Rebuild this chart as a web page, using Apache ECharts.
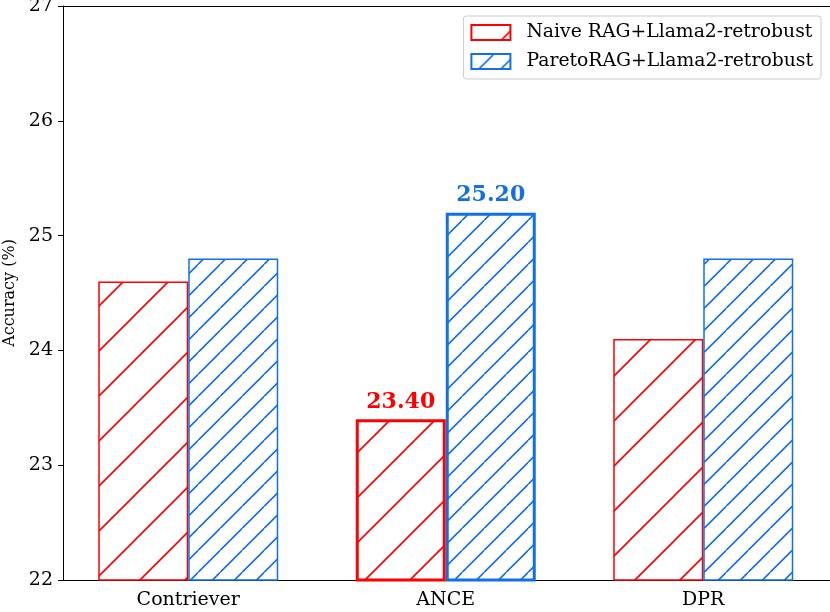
<!DOCTYPE html>
<html>
<head>
<meta charset="utf-8">
<script src="https://cdn.jsdelivr.net/npm/echarts@6/dist/echarts.min.js"></script>
<style>
  html, body { margin: 0; padding: 0; background: #fff; }
  #main { width: 830px; height: 612px; }
</style>
</head>
<body>
<div id="main"></div>
<script>
var categories = ['Contriever', 'ANCE', 'DPR'];
var naiveValues = [24.6, 23.4, 24.1];
var paretoValues = [24.8, 25.2, 24.8];
var yTicks = [22, 23, 24, 25, 26, 27];
var highlightIndex = 1; // ANCE gets thick border + value label

var RED = '#ff0000';
var BLUE = '#1170e6';
var FONT = 'DejaVu Serif';

// diagonal "/" hatch tile
function hatch(color, step, lw) {
  var c = document.createElement('canvas');
  c.width = step; c.height = step;
  var ctx = c.getContext('2d');
  ctx.fillStyle = '#fff';
  ctx.fillRect(0, 0, step, step);
  ctx.strokeStyle = color;
  ctx.lineWidth = lw;
  ctx.beginPath();
  ctx.moveTo(-2, step + 2); ctx.lineTo(step + 2, -2);
  ctx.moveTo(-2, 2); ctx.lineTo(2, -2);
  ctx.moveTo(step - 2, step + 2); ctx.lineTo(step + 2, step - 2);
  ctx.stroke();
  return { image: c, repeat: 'repeat' };
}

function makeData(values, color) {
  return values.map(function (v, i) {
    if (i !== highlightIndex) return v;
    return {
      value: v,
      itemStyle: { borderWidth: 3 },
      label: {
        show: true, position: 'top', distance: 6,
        color: color, fontFamily: FONT, fontWeight: 'bold', fontSize: 22,
        formatter: function (p) { return p.value.toFixed(2); }
      }
    };
  });
}

var chart = echarts.init(document.getElementById('main'));
chart.setOption({
  animation: false,
  backgroundColor: '#fff',
  grid: {
    left: 59.5, top: 6, bottom: 32, right: -2,
    outerBoundsMode: 'none', containLabel: false
  },
  legend: {
    right: 9, top: 16,
    orient: 'vertical',
    icon: 'rect',
    itemWidth: 39, itemHeight: 15, itemGap: 10,
    padding: [7, 8, 8, 7],
    borderColor: '#ccc', borderWidth: 1, borderRadius: 3,
    textStyle: { fontFamily: FONT, fontSize: 18.8, lineHeight: 19, color: '#000', padding: [0, 0, 0, 11] },
    data: ['Naive RAG+Llama2-retrobust', 'ParetoRAG+Llama2-retrobust']
  },
  xAxis: [
    {
      type: 'category',
      data: categories,
      axisLine: { lineStyle: { color: '#000', width: 1 } },
      axisTick: { alignWithLabel: true, length: 5, lineStyle: { color: '#000' } },
      axisLabel: { fontFamily: FONT, fontSize: 19, color: '#000', margin: 11 }
    },
    {
      type: 'category',
      position: 'top',
      data: categories,
      axisLine: { show: true, lineStyle: { color: '#000', width: 1 } },
      axisTick: { show: false },
      axisLabel: { show: false }
    }
  ],
  yAxis: {
    type: 'value',
    min: 22, max: 27, interval: 1,
    offset: -3.5,
    name: 'Accuracy (%)',
    nameLocation: 'middle', nameGap: 43,
    nameTextStyle: { fontFamily: FONT, fontSize: 16, color: '#000' },
    axisLine: { show: true, lineStyle: { color: '#000', width: 1 } },
    axisTick: { show: true, length: 5, lineStyle: { color: '#000' } },
    splitLine: { show: false },
    axisLabel: {
      fontFamily: FONT, fontSize: 19, color: '#000', margin: 10,
      formatter: function (v) { return yTicks.indexOf(v) >= 0 ? String(v) : ''; }
    }
  },
  series: [
    {
      name: 'Naive RAG+Llama2-retrobust',
      type: 'bar',
      barWidth: 90, barGap: '0%',
      itemStyle: { color: hatch(RED, 45, 1.6), borderColor: RED, borderWidth: 1.5 },
      data: makeData(naiveValues, RED)
    },
    {
      name: 'ParetoRAG+Llama2-retrobust',
      type: 'bar',
      barWidth: 90, barGap: '0%',
      itemStyle: { color: hatch(BLUE, 22.5, 1.6), borderColor: BLUE, borderWidth: 1.5 },
      data: makeData(paretoValues, BLUE)
    }
  ]
});
</script>
</body>
</html>
